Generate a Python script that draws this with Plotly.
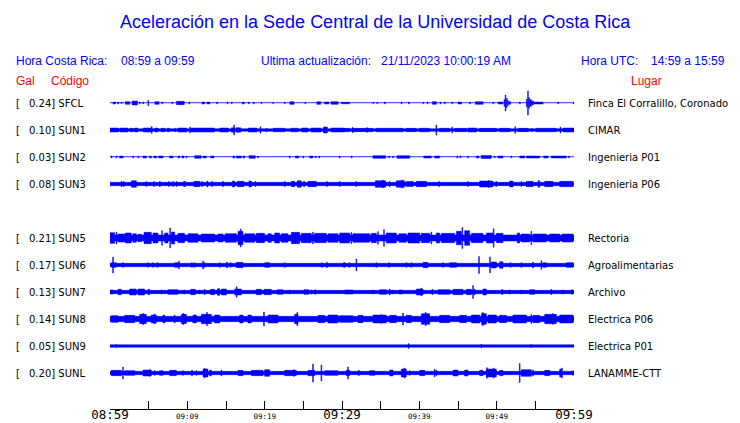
import plotly.graph_objects as go

# ---------------- data ----------------
stations = ["SFCL", "SUN1", "SUN2", "SUN3", "SUN5", "SUN6", "SUN7", "SUN8", "SUN9", "SUNL"]
peak_gal = [0.24, 0.10, 0.03, 0.08, 0.21, 0.17, 0.13, 0.14, 0.05, 0.20]
places = ["Finca El Corralillo, Coronado", "CIMAR", "Ingenieria P01", "Ingenieria P06",
          "Rectoria", "Agroalimentarias", "Archivo", "Electrica P06", "Electrica P01", "LANAMME-CTT"]
row_slot = [0, 1, 2, 3, 5, 6, 7, 8, 9, 10]
noise_gal = [0.006, 0.025, 0.006, 0.033, 0.06, 0.033, 0.033, 0.053, 0.024, 0.033]

tick_minutes = list(range(0, 61, 5))
tick_labels = ["08:59", "", "09:09", "", "09:19", "", "09:29", "", "09:39", "", "09:49", "", "09:59"]
tick_major = [True, False, False, False, False, False, True, False, False, False, False, False, True]

# bursts: (start minute, end minute, amplitude gal)
bursts_SFCL = [
    (0.4, 0.7, 0.02), (1.0, 1.1, 0.02), (1.45, 1.55, 0.015), (2.0, 2.55, 0.027), (2.85, 3.55, 0.04),
    (3.8, 3.9, 0.02), (4.25, 4.35, 0.02), (4.9, 5.0, 0.053), (5.8, 6.35, 0.027), (6.7, 6.8, 0.02),
    (8.0, 8.1, 0.02), (8.6, 9.6, 0.033), (10.2, 10.3, 0.02), (11.9, 12.25, 0.02), (12.55, 12.9, 0.02),
    (13.8, 13.9, 0.02), (15.15, 15.25, 0.02), (15.7, 15.8, 0.015), (17.1, 17.35, 0.02), (17.9, 18.0, 0.02),
    (18.55, 18.65, 0.02), (19.55, 19.65, 0.015), (21.05, 21.15, 0.015), (22.55, 22.65, 0.015),
    (23.25, 23.8, 0.027), (25.2, 25.3, 0.015), (26.75, 27.25, 0.027), (27.75, 28.3, 0.02),
    (28.6, 29.5, 0.027), (29.95, 30.05, 0.02), (30.1, 31.0, 0.015), (34.0, 34.1, 0.015),
    (34.5, 34.6, 0.015), (35.5, 35.6, 0.02), (37.65, 37.75, 0.02), (38.6, 38.7, 0.02),
    (40.45, 40.55, 0.015), (41.0, 41.1, 0.02), (41.7, 42.2, 0.027), (42.7, 42.8, 0.02),
    (43.25, 43.35, 0.02), (44.2, 44.3, 0.02), (45.0, 45.45, 0.02), (46.5, 46.6, 0.02),
    (47.25, 48.25, 0.027), (49.5, 49.6, 0.02), (50.2, 50.8, 0.02), (50.95, 51.05, 0.067),
    (51.1, 51.2, 0.16), (51.25, 51.35, 0.093), (51.4, 51.5, 0.053), (51.55, 51.8, 0.027),
    (52.95, 53.05, 0.02), (53.85, 53.95, 0.08), (54.0, 54.1, 0.24), (54.15, 54.25, 0.107),
    (54.3, 54.5, 0.067), (54.55, 54.75, 0.04), (54.8, 56.0, 0.02), (57.9, 58.0, 0.02), (59.9, 60.0, 0.02),
]
bursts_SUN1 = [
    (0.0, 1.1, 0.04), (1.3, 2.3, 0.04), (2.6, 3.0, 0.035), (3.2, 3.6, 0.04), (4.3, 5.3, 0.04),
    (5.35, 5.45, 0.07), (5.8, 6.2, 0.04), (6.6, 7.1, 0.035), (7.4, 7.7, 0.035), (8.4, 8.5, 0.035),
    (8.8, 9.9, 0.04), (10.3, 10.4, 0.06), (10.5, 13.5, 0.04), (14.2, 15.3, 0.04), (15.7, 16.1, 0.045),
    (16.0, 16.1, 0.10), (16.3, 16.9, 0.045), (17.9, 19.0, 0.04), (19.4, 19.5, 0.065), (20.2, 20.3, 0.035),
    (21.1, 22.6, 0.035), (23.4, 24.3, 0.035), (24.8, 25.6, 0.04), (26.0, 27.3, 0.04), (27.6, 28.1, 0.06),
    (28.6, 30.3, 0.04), (30.3, 31.0, 0.033), (31.3, 31.4, 0.053), (31.4, 34.0, 0.033), (33.2, 33.3, 0.047),
    (34.4, 37.9, 0.035), (38.3, 39.6, 0.033), (40.0, 41.3, 0.035), (42.15, 42.25, 0.10), (42.6, 43.9, 0.035),
    (44.2, 44.3, 0.06), (44.6, 46.1, 0.033), (46.3, 47.4, 0.04), (47.8, 50.0, 0.033), (50.4, 51.7, 0.035),
    (52.35, 52.45, 0.067), (52.8, 54.1, 0.033), (54.5, 54.6, 0.033), (55.1, 57.7, 0.035), (58.2, 58.3, 0.06),
    (58.6, 60.0, 0.04),
]
bursts_SUN2 = [
    (0.15, 0.25, 0.02), (0.8, 0.9, 0.02), (1.25, 1.7, 0.02), (2.95, 3.05, 0.02), (3.6, 3.7, 0.02),
    (4.27, 4.7, 0.02), (5.13, 5.34, 0.02), (5.69, 6.0, 0.02), (6.29, 6.85, 0.02), (7.72, 8.15, 0.02),
    (8.79, 9.0, 0.02), (9.31, 9.57, 0.02), (9.85, 9.95, 0.02), (10.95, 11.8, 0.027), (12.03, 12.46, 0.02),
    (13.02, 13.45, 0.02), (15.9, 16.12, 0.02), (16.34, 16.98, 0.02), (17.2, 17.41, 0.02), (17.97, 18.79, 0.027),
    (19.1, 19.2, 0.02), (23.2, 23.3, 0.02), (23.97, 24.4, 0.02), (24.95, 25.05, 0.02), (25.82, 26.25, 0.02),
    (26.55, 26.65, 0.02), (27.0, 27.1, 0.02), (29.65, 29.75, 0.02), (31.2, 31.3, 0.02), (34.0, 35.65, 0.027),
    (36.05, 36.15, 0.02), (36.55, 36.65, 0.02), (37.1, 38.75, 0.027), (40.56, 41.55, 0.02), (41.98, 42.63, 0.02),
    (44.85, 44.95, 0.02), (45.25, 45.35, 0.02), (46.25, 46.35, 0.02), (47.37, 47.72, 0.02), (48.0, 49.3, 0.03),
    (49.7, 49.8, 0.02), (50.17, 50.82, 0.02), (51.85, 51.95, 0.02), (52.98, 53.62, 0.02), (53.84, 55.56, 0.02),
    (56.08, 56.64, 0.02), (57.07, 59.0, 0.02), (59.3, 59.4, 0.02),
]
bursts_SUN3 = [
    (1.45, 1.55, 0.053), (1.75, 1.85, 0.05), (2.76, 3.4, 0.065), (4.65, 4.75, 0.05), (5.65, 5.75, 0.05),
    (6.4, 6.5, 0.053), (7.55, 7.65, 0.05), (8.1, 8.2, 0.05), (8.55, 8.65, 0.05), (9.53, 9.74, 0.053),
    (10.86, 11.6, 0.053), (11.85, 11.95, 0.05), (12.54, 12.67, 0.06), (13.15, 13.25, 0.05), (14.55, 14.65, 0.053),
    (15.82, 16.12, 0.06), (16.47, 17.33, 0.053), (17.97, 18.28, 0.06), (18.75, 18.85, 0.05), (22.55, 22.65, 0.05),
    (23.45, 23.88, 0.053), (24.22, 24.74, 0.065), (25.05, 25.15, 0.06), (25.6, 26.68, 0.053), (28.0, 28.1, 0.05),
    (29.65, 29.75, 0.05), (31.8, 31.9, 0.05), (34.31, 35.65, 0.065), (35.25, 35.35, 0.08), (36.1, 36.2, 0.05),
    (37.03, 38.1, 0.065), (37.7, 37.8, 0.08), (38.32, 39.18, 0.05), (39.61, 40.91, 0.053), (42.5, 42.6, 0.05),
    (46.25, 46.35, 0.05), (47.8, 49.53, 0.06), (48.95, 49.05, 0.073), (49.9, 50.0, 0.05), (51.68, 52.11, 0.06),
    (53.15, 53.25, 0.05), (53.84, 54.7, 0.053), (55.35, 55.56, 0.067), (56.21, 57.29, 0.053), (58.15, 59.87, 0.053),
]
bursts_SUN5 = [
    (0.0, 0.6, 0.107), (0.78, 0.88, 0.12), (1.03, 1.9, 0.08), (1.98, 2.76, 0.1), (2.97, 3.4, 0.087),
    (3.62, 4.05, 0.073), (4.4, 5.34, 0.113), (5.56, 6.21, 0.1), (6.68, 6.78, 0.147), (7.07, 7.5, 0.1),
    (7.72, 7.82, 0.2), (7.93, 8.36, 0.12), (8.79, 9.65, 0.093), (10.09, 11.38, 0.087), (11.81, 13.53, 0.08),
    (13.96, 14.61, 0.08), (14.91, 16.34, 0.087), (16.55, 17.2, 0.133), (16.85, 16.95, 0.18), (17.41, 18.71, 0.087),
    (18.92, 20.0, 0.093), (20.43, 20.86, 0.087), (21.29, 21.94, 0.1), (22.16, 23.02, 0.087), (23.45, 24.53, 0.113),
    (24.74, 26.03, 0.093), (26.2, 26.3, 0.12), (26.46, 27.97, 0.093), (28.19, 29.48, 0.087), (29.7, 31.0, 0.1),
    (31.16, 31.26, 0.113), (31.42, 33.58, 0.087), (33.79, 34.44, 0.093), (34.61, 34.71, 0.127), (35.38, 35.48, 0.167),
    (35.73, 37.03, 0.1), (37.37, 38.32, 0.087), (38.54, 40.04, 0.1), (40.26, 41.34, 0.093), (41.5, 41.6, 0.12),
    (42.2, 42.63, 0.1), (42.85, 44.57, 0.093), (44.79, 45.43, 0.133), (45.51, 45.61, 0.21), (45.86, 46.51, 0.147),
    (46.73, 48.23, 0.093), (48.67, 49.53, 0.1), (49.56, 49.66, 0.187), (49.96, 50.82, 0.093), (52.67, 52.98, 0.1),
    (53.19, 54.27, 0.08), (54.43, 54.53, 0.133), (54.7, 56.42, 0.08), (56.86, 58.15, 0.08), (58.45, 59.87, 0.08),
]
bursts_SUN6 = [
    (0.17, 0.82, 0.047), (0.34, 0.44, 0.16), (1.63, 1.73, 0.047), (4.86, 4.96, 0.047), (5.51, 5.61, 0.047),
    (6.07, 6.17, 0.047), (8.36, 8.79, 0.047), (8.87, 8.97, 0.08), (10.55, 10.65, 0.047), (10.9, 11.0, 0.047),
    (11.98, 12.08, 0.08), (12.19, 12.29, 0.047), (14.13, 14.23, 0.047), (15.08, 15.18, 0.06), (15.55, 15.65, 0.047),
    (16.34, 17.2, 0.053), (20.0, 20.65, 0.047), (22.54, 22.64, 0.047), (27.36, 27.46, 0.047), (28.01, 28.11, 0.053),
    (30.21, 30.31, 0.047), (30.3, 30.4, 0.047), (30.94, 31.04, 0.047), (31.81, 31.91, 0.12), (34.39, 34.49, 0.047),
    (36.03, 36.13, 0.047), (38.27, 38.37, 0.047), (38.92, 39.02, 0.047), (40.48, 41.12, 0.053), (43.01, 43.11, 0.047),
    (43.92, 44.79, 0.047), (47.67, 47.77, 0.17), (49.09, 49.19, 0.16), (49.31, 49.96, 0.06), (50.39, 50.82, 0.067),
    (51.72, 51.82, 0.047), (53.14, 53.24, 0.047), (54.65, 54.75, 0.06), (55.73, 55.83, 0.087), (55.99, 56.42, 0.047),
    (59.01, 59.87, 0.047),
]
bursts_SUN7 = [
    (0.0, 0.39, 0.04), (1.03, 1.47, 0.053), (2.54, 3.4, 0.06), (3.62, 4.48, 0.06), (4.91, 5.13, 0.053),
    (6.6, 6.7, 0.04), (7.5, 8.79, 0.047), (9.6, 9.7, 0.04), (10.43, 11.03, 0.053), (11.55, 11.65, 0.04),
    (12.2, 12.3, 0.053), (13.02, 13.53, 0.053), (13.88, 14.18, 0.067), (14.4, 15.04, 0.06), (16.12, 16.98, 0.06),
    (16.33, 16.43, 0.107), (18.92, 19.57, 0.053), (19.91, 20.86, 0.053), (21.64, 22.37, 0.047), (23.18, 23.28, 0.04),
    (25.09, 25.69, 0.047), (25.98, 26.08, 0.04), (26.5, 26.6, 0.047), (30.35, 31.42, 0.04), (33.96, 34.06, 0.04),
    (34.87, 35.73, 0.047), (36.12, 36.22, 0.06), (36.55, 36.65, 0.04), (37.37, 37.8, 0.04), (39.61, 40.48, 0.06),
    (40.21, 40.31, 0.08), (41.63, 41.73, 0.053), (42.42, 43.92, 0.047), (44.36, 45.65, 0.053), (46.08, 46.73, 0.053),
    (46.89, 46.99, 0.13), (47.11, 47.21, 0.06), (48.23, 48.67, 0.06), (50.6, 50.82, 0.047), (51.63, 51.73, 0.04),
    (53.14, 53.24, 0.04), (54.27, 54.92, 0.047), (57.02, 57.12, 0.053), (58.53, 58.63, 0.04), (59.69, 59.79, 0.047),
]
bursts_SUN8 = [
    (0.17, 1.03, 0.067), (1.9, 3.19, 0.073), (3.84, 4.7, 0.093), (4.22, 4.32, 0.113), (5.34, 5.99, 0.08),
    (5.73, 5.83, 0.1), (6.85, 7.07, 0.08), (8.31, 8.41, 0.08), (9.22, 9.87, 0.093), (9.43, 9.53, 0.113),
    (10.73, 11.16, 0.08), (11.81, 13.1, 0.093), (12.49, 12.59, 0.133), (13.53, 14.18, 0.08), (16.77, 17.2, 0.08),
    (17.84, 18.28, 0.08), (19.86, 19.96, 0.14), (20.43, 21.72, 0.08), (23.88, 24.31, 0.093), (24.17, 24.27, 0.133),
    (26.89, 27.76, 0.073), (28.19, 29.48, 0.08), (29.7, 31.42, 0.067), (32.07, 32.72, 0.073), (34.01, 35.73, 0.08),
    (35.04, 35.14, 0.087), (36.17, 37.03, 0.073), (37.84, 37.94, 0.12), (38.32, 38.97, 0.073), (40.26, 41.34, 0.107),
    (40.77, 40.87, 0.133), (42.63, 43.92, 0.073), (45.22, 46.08, 0.073), (46.73, 47.8, 0.08), (48.02, 48.67, 0.107),
    (48.18, 48.28, 0.133), (48.88, 49.96, 0.08), (50.39, 51.25, 0.073), (52.11, 53.84, 0.08), (54.43, 54.53, 0.093),
    (54.7, 55.56, 0.073), (56.21, 57.72, 0.093), (57.24, 57.34, 0.107), (58.15, 59.87, 0.08),
]
bursts_SUN9 = [
    (0.77, 0.87, 0.03), (38.57, 38.67, 0.05), (47.97, 48.07, 0.033), (54.43, 54.53, 0.03),
]
bursts_SUNL = [
    (0.17, 1.47, 0.053), (1.63, 1.73, 0.12), (1.9, 3.19, 0.047), (4.27, 5.34, 0.06), (5.08, 5.18, 0.067),
    (5.73, 5.83, 0.047), (6.42, 6.85, 0.047), (7.72, 8.58, 0.053), (9.39, 9.49, 0.047), (10.55, 10.65, 0.06),
    (11.11, 11.21, 0.047), (12.03, 12.67, 0.08), (12.19, 12.29, 0.093), (12.89, 13.1, 0.06), (14.35, 14.45, 0.06),
    (16.55, 17.2, 0.053), (18.28, 19.78, 0.053), (20.0, 20.65, 0.067), (22.59, 24.09, 0.053), (23.74, 23.84, 0.067),
    (25.6, 26.46, 0.053), (26.2, 26.3, 0.18), (27.28, 27.38, 0.16), (27.76, 29.48, 0.047), (30.56, 30.99, 0.053),
    (30.73, 30.83, 0.12), (32.07, 32.29, 0.047), (33.58, 34.23, 0.047), (36.17, 36.6, 0.06), (37.67, 38.32, 0.08),
    (38.05, 38.15, 0.1), (38.7, 38.8, 0.047), (40.04, 40.69, 0.053), (41.93, 42.03, 0.08), (42.15, 42.25, 0.053),
    (44.36, 45.0, 0.06), (45.86, 46.29, 0.06), (47.8, 48.23, 0.053), (48.67, 49.96, 0.08), (48.7, 48.8, 0.107),
    (49.56, 49.66, 0.1), (50.39, 50.82, 0.053), (52.93, 53.03, 0.19), (53.19, 54.48, 0.067), (54.65, 54.75, 0.06),
    (56.21, 56.86, 0.053), (58.15, 58.36, 0.08), (58.4, 58.5, 0.1), (59.82, 59.92, 0.047),
]
all_bursts = [bursts_SFCL, bursts_SUN1, bursts_SUN2, bursts_SUN3, bursts_SUN5,
              bursts_SUN6, bursts_SUN7, bursts_SUN8, bursts_SUN9, bursts_SUNL]

# ---------------- styling / geometry ----------------
BLUE = "#0000ff"
OFF = 8                       # page body margin in the browser
W, H = 740 - OFF, 423 - OFF   # figure size
# target (screenshot) pixel geometry
PLOT_L, PLOT_R, PLOT_T, PLOT_B = 110, 574, 88, 409
ML, MR = PLOT_L - OFF, W - (PLOT_R - OFF)
MT, MB = PLOT_T - OFF, H - (PLOT_B - OFF)
PW, PH = W - ML - MR, H - MT - MB
ROW_PX = 27.0
GAL_PX = 50.0  # pixels per gal
first_row_px = 103.0
y_top = -(first_row_px - PLOT_T) / ROW_PX
y_bot = y_top + PH / ROW_PX
gal2row = GAL_PX / ROW_PX


def px2paper(px, py):
    return (px - PLOT_L) / PW, (PLOT_B - py) / PH


fig = go.Figure()
MINW = 0.1
for st, slot, nz, bl in zip(stations, row_slot, noise_gal, all_bursts):
    xs, ys = [], []
    rects = [(0.0, 60.0, nz)] + list(bl)
    for t0, t1, a in rects:
        if t1 - t0 < MINW:
            c = (t0 + t1) / 2
            t0, t1 = c - MINW / 2, c + MINW / 2
        t0, t1 = max(t0, 0.0), min(t1, 60.0)
        h = a * gal2row
        xs += [t0, t1, t1, t0, t0, None]
        ys += [slot - h, slot - h, slot + h, slot + h, slot - h, None]
    fig.add_trace(go.Scatter(x=xs, y=ys, mode="lines", fill="toself", fillcolor=BLUE,
                             line=dict(color=BLUE, width=0.5), hoverinfo="skip",
                             showlegend=False, name=st))

ann = []
lab_font = dict(family="DejaVu Sans", size=10, color="black")
for st, pk, pl, slot in zip(stations, peak_gal, places, row_slot):
    ann.append(dict(x=px2paper(14, 0)[0], xref="paper", y=slot, yref="y", text="[", showarrow=False,
                    xanchor="left", yanchor="middle", font=lab_font))
    ann.append(dict(x=px2paper(27, 0)[0], xref="paper", y=slot, yref="y", text=f"{pk:.2f}] {st}",
                    showarrow=False, xanchor="left", yanchor="middle", font=lab_font))
    ann.append(dict(x=px2paper(586, 0)[0], xref="paper", y=slot, yref="y", text=pl, showarrow=False,
                    xanchor="left", yanchor="middle", font=lab_font))

hdr_font = dict(family="Liberation Sans, Arial", size=12, color=BLUE)
red_font = dict(family="Liberation Sans, Arial", size=12, color="red")
texts = [
    ("Hora Costa Rica:", 14, 61, hdr_font),
    ("08:59 a 09:59", 119, 61, hdr_font),
    ("Ultima actualización:", 259, 61, hdr_font),
    ("21/11/2023 10:00:19 AM", 379, 61, hdr_font),
    ("Hora UTC:", 579, 61, hdr_font),
    ("14:59 a 15:59", 649, 61, hdr_font),
    ("Gal", 14, 81, red_font),
    ("Código", 49, 81, red_font),
    ("Lugar", 629, 81, red_font),
]
for t, px, py, f in texts:
    xp, yp = px2paper(px, py)
    ann.append(dict(x=xp, y=yp, xref="paper", yref="paper", text=t, showarrow=False,
                    xanchor="left", yanchor="middle", font=f))

xp, yp = px2paper(375, 22)
ann.append(dict(x=xp, y=yp, xref="paper", yref="paper",
                text="Aceleración en la Sede Central de la Universidad de Costa Rica",
                showarrow=False, xanchor="center", yanchor="middle",
                font=dict(family="Liberation Sans, Arial", size=18, color=BLUE)))

ticktext = [(f"<span style='font-size:12.5px'>{lb}</span>" if mj else lb)
            for lb, mj in zip(tick_labels, tick_major)]

fig.update_layout(
    width=W, height=H,
    margin=dict(l=ML, r=MR, t=MT, b=MB, pad=0, autoexpand=False),
    paper_bgcolor="white", plot_bgcolor="white",
    annotations=ann,
    xaxis=dict(range=[0, 60], showgrid=False, zeroline=False, showline=True, linecolor="black",
               linewidth=1, ticks="inside", ticklen=8, tickcolor="black", tickwidth=1,
               tickvals=tick_minutes, ticktext=ticktext, automargin=False,
               tickfont=dict(family="DejaVu Sans Mono", size=7.5, color="black"), ticklabelstandoff=0,
               fixedrange=True),
    yaxis=dict(range=[y_bot, y_top], visible=False, fixedrange=True, automargin=False),
    showlegend=False,
)

fig.write_html("out.html")
